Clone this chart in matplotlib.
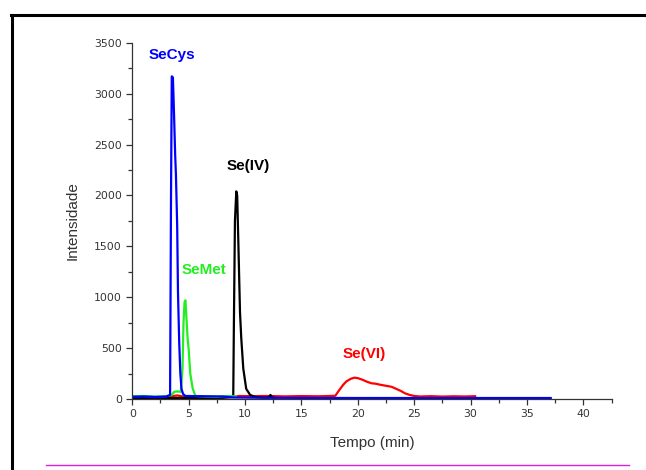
import matplotlib
matplotlib.use("Agg")
import matplotlib.pyplot as plt
from matplotlib.lines import Line2D
from matplotlib.ticker import MultipleLocator

plt.rcParams['font.family'] = ['Liberation Sans', 'DejaVu Sans']

# ---- data ----
red_t = [0.0, 1.0, 2.0, 3.0, 3.6, 4.0, 4.5, 5.0, 6.0, 7.0, 8.0, 9.0, 9.5, 10.5, 12.0, 13.5, 15.0, 16.5, 17.5, 18.0,
         18.3, 18.7, 19.0, 19.4, 19.7, 20.0, 20.4, 20.8, 21.2, 21.6, 22.0, 22.5, 23.0, 23.4, 23.8, 24.2, 24.6,
         25.0, 25.5, 26.5, 27.5, 28.5, 29.5, 30.4]
red_y = [12, 15, 14, 16, 30, 35, 25, 15, 14, 15, 16, 22, 30, 28, 30, 26, 29, 27, 30, 32,
         80, 140, 175, 200, 210, 205, 190, 170, 155, 150, 140, 130, 120, 100, 80, 55, 40,
         30, 25, 28, 24, 27, 25, 28]

blue_t = [0.0, 1.0, 2.0, 3.0, 3.35, 3.43, 3.5, 3.6, 3.7, 3.8, 3.87, 3.98, 4.05, 4.16, 4.26, 4.36, 4.5, 4.7,
          6.0, 8.0, 9.0, 12.0, 20.0, 30.0, 37.1]
blue_y = [22, 25, 20, 24, 40, 1950, 3170, 3160, 2800, 2400, 2200, 1700, 1050, 550, 250, 100, 50, 30,
          28, 25, 15, 12, 10, 10, 10]

green_t = [0.0, 1.0, 2.0, 3.0, 3.5, 3.7, 4.0, 4.3, 4.45, 4.54, 4.63, 4.71, 4.8, 4.9, 4.99, 5.14, 5.36, 5.6,
           6.5, 7.5, 8.5, 9.2]
green_y = [28, 30, 25, 28, 40, 70, 75, 70, 300, 750, 950, 970, 800, 600, 500, 250, 100, 30,
           25, 22, 30, 25]

black_t = [0.0, 2.0, 4.0, 6.0, 8.0, 8.95, 9.0, 9.1, 9.22, 9.3, 9.4, 9.55, 9.66, 9.84, 10.1, 10.45, 10.9,
           11.5, 12.1, 12.25, 12.4, 12.6]
black_y = [10, 12, 10, 11, 12, 20, 650, 1750, 2040, 2000, 1550, 850, 600, 300, 100, 40, 20,
           15, 15, 40, 15, 12]

labels = ["SeCys", "SeMet", "Se(IV)", "Se(VI)"]
label_x = [3.5, 6.4, 10.3, 20.6]
label_y = [3380, 1270, 2290, 440]
colors = ["#0000ff", "#22ee22", "#000000", "#ff0000"]

x_ticks = [0, 5, 10, 15, 20, 25, 30, 35, 40]
y_ticks = [0, 500, 1000, 1500, 2000, 2500, 3000, 3500]

# ---- figure ----
fig = plt.figure(figsize=(6.46, 4.70), dpi=100)
ax = fig.add_axes([0.2048, 0.151, 0.742, 0.758])

ax.plot(red_t, red_y, color=colors[3], lw=1.6)
ax.plot(black_t, black_y, color=colors[2], lw=1.6)
ax.plot(green_t, green_y, color=colors[1], lw=1.6)
ax.plot(blue_t, blue_y, color=colors[0], lw=1.6)

for lab, lx, ly, c in zip(labels, label_x, label_y, colors):
    ax.text(lx, ly, lab, color=c, fontsize=11, fontweight='bold', ha='center', va='center')

ax.set_xlim(0, 42.5)
ax.set_ylim(0, 3500)
ax.set_xticks(x_ticks)
ax.set_yticks(y_ticks)
ax.xaxis.set_minor_locator(MultipleLocator(2.5))
ax.yaxis.set_minor_locator(MultipleLocator(250))
ax.tick_params(which='major', direction='out', length=4, width=0.9, colors='#333333',
               labelsize=7.8, labelcolor='#333333')
ax.tick_params(which='minor', direction='out', length=3, width=0.9, colors='#333333')
for t in ax.get_xticklabels() + ax.get_yticklabels():
    t.set_family(['DejaVu Sans'])
for s in ['top', 'right']:
    ax.spines[s].set_visible(False)
for s in ['left', 'bottom']:
    ax.spines[s].set_color('#333333')
    ax.spines[s].set_linewidth(0.9)

ax.set_xlabel("Tempo (min)", fontsize=11, color='#333333', labelpad=12)
ax.set_ylabel("Intensidade", fontsize=11, color='#333333', labelpad=10)

# page frame lines
fig.add_artist(Line2D([11/646, 1.0], [1 - 15/470, 1 - 15/470], color='black', lw=2.2, transform=fig.transFigure))
fig.add_artist(Line2D([12/646, 12/646], [0.0, 1 - 15/470], color='black', lw=2.2, transform=fig.transFigure))
fig.add_artist(Line2D([46/646, 629/646], [1 - 465/470, 1 - 465/470], color='#e020e0', lw=1.0, transform=fig.transFigure))

fig.savefig("out.png", dpi=100)
